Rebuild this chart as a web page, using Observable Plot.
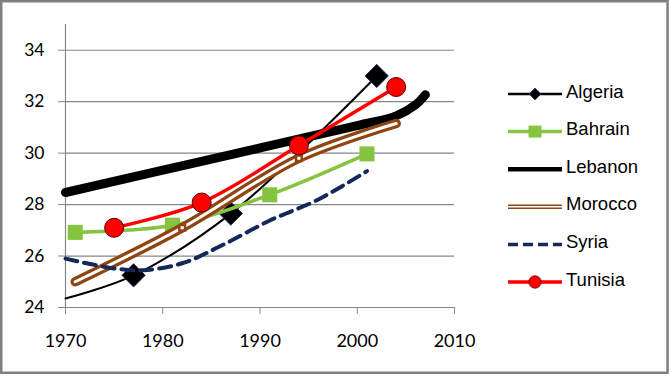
<!DOCTYPE html>
<html><head><meta charset="utf-8">
<script src="https://cdn.jsdelivr.net/npm/d3@7"></script>
<script src="https://cdn.jsdelivr.net/npm/@observablehq/plot@0.6"></script>
<style>
html,body{margin:0;padding:0;background:#fff;}
#chart{width:670px;height:376px;position:relative;}
</style></head><body><div id="chart"></div>
<script>
// ---- data ----
const seriesNames = ["Algeria","Bahrain","Lebanon","Morocco","Syria","Tunisia"];
const algeriaYears = [1970, 1977, 1987, 2002];
const algeriaValues = [24.35, 25.25, 27.65, 33.0];
const algeriaMarked = [false, true, true, true];
const bahrainYears = [1971, 1981, 1991, 2001];
const bahrainValues = [26.92, 27.2, 28.38, 29.97];
const lebanonYears = [1970, 1985, 2000, 2004, 2006, 2007];
const lebanonValues = [28.47, 29.77, 31.07, 31.45, 31.88, 32.27];
const moroccoYears = [1971, 1982, 1994, 2004];
const moroccoValues = [25.0, 27.1, 29.8, 31.15];
const moroccoMarked = [false, true, true, false];
const syriaYears = [1970, 1975, 1978, 1982, 1986, 1991, 1996, 2001];
const syriaValues = [25.9, 25.52, 25.45, 25.72, 26.4, 27.38, 28.2, 29.3];
const tunisiaYears = [1975, 1984, 1994, 2004];
const tunisiaValues = [27.1, 28.08, 30.3, 32.57];
const xTicks = [1970, 1980, 1990, 2000, 2010];
const yTicks = [24, 26, 28, 30, 32, 34];

const rows = (name, years, values, marked) =>
  years.map((y, i) => ({name, year: y, value: values[i], marked: marked ? marked[i] : true}));
const algeria = rows("Algeria", algeriaYears, algeriaValues, algeriaMarked);
const bahrain = rows("Bahrain", bahrainYears, bahrainValues);
const lebanon = rows("Lebanon", lebanonYears, lebanonValues);
const morocco = rows("Morocco", moroccoYears, moroccoValues, moroccoMarked);
const syria = rows("Syria", syriaYears, syriaValues);
const tunisia = rows("Tunisia", tunisiaYears, tunisiaValues);

const C = {
  algeria: "#000000", algeriaEdge: "#1F3864",
  bahrain: "#86C440",
  lebanon: "#000000",
  morocco: "#8E4512",
  syria: "#14285A",
  tunisia: "#FF0000", tunisiaEdge: "#600000",
  grid: "#868686"
};
const curve = "catmull-rom";
const XY = {x: "year", y: "value", curve};

const svg = Plot.plot({
  width: 670, height: 376,
  marginLeft: 65, marginRight: 216, marginTop: 24, marginBottom: 69,
  style: {fontFamily: "Lato, sans-serif", fontSize: "17.5px", background: "transparent", overflow: "visible"},
  x: {domain: [1970, 2010]},
  y: {domain: [24, 35]},
  marks: [
    Plot.ruleY(yTicks, {stroke: C.grid, strokeWidth: 1.2}),
    Plot.ruleX([1970], {y1: 24, y2: 35, stroke: C.grid, strokeWidth: 1.2}),
    Plot.axisY(yTicks, {tickSize: 7, tickPadding: 14, stroke: C.grid, fill: "#000", label: null, tickFormat: d => String(d), fontSize: 17.5}),
    Plot.axisX(xTicks, {tickSize: 7, tickPadding: 20, stroke: C.grid, fill: "#000", label: null, tickFormat: d => String(d), fontSize: 18}),
    // Algeria
    Plot.line(algeria, {...XY, stroke: C.algeria, strokeWidth: 2}),
    Plot.dot(algeria.filter(d => d.marked), {x: "year", y: "value", symbol: "diamond2", r: 10.5, fill: "#000", stroke: C.algeriaEdge, strokeWidth: 1}),
    // Bahrain
    Plot.line(bahrain, {...XY, stroke: C.bahrain, strokeWidth: 3.5}),
    Plot.dot(bahrain, {x: "year", y: "value", symbol: "square", r: 8.5, fill: C.bahrain, stroke: "none"}),
    // Lebanon
    Plot.line(lebanon, {...XY, stroke: C.lebanon, strokeWidth: 9, strokeLinecap: "round"}),
    // Morocco (double line)
    Plot.line(morocco, {...XY, stroke: C.morocco, strokeWidth: 9.5, strokeLinecap: "round"}),
    Plot.line(morocco, {...XY, stroke: "#fff", strokeWidth: 3, strokeLinecap: "round"}),
    Plot.dot(morocco.filter(d => d.marked), {x: "year", y: "value", symbol: "square", r: 3.2, fill: "#fff", stroke: C.morocco, strokeWidth: 2.5}),
    // Syria
    Plot.line(syria, {...XY, stroke: C.syria, strokeWidth: 4, strokeDasharray: "12,7"}),
    // Tunisia
    Plot.line(tunisia, {...XY, stroke: C.tunisia, strokeWidth: 3.5}),
    Plot.dot(tunisia, {x: "year", y: "value", symbol: "circle", r: 9.5, fill: C.tunisia, stroke: C.tunisiaEdge, strokeWidth: 1})
  ]
});

const s = d3.select(svg);
// legend
const legendX1 = 508, legendX2 = 562, legendText = 566;
const rowY = [94, 131.6, 169.2, 206.8, 244.4, 282];
const g = s.append("g").attr("text-anchor", "start");
seriesNames.forEach((name, i) => {
  const y = rowY[i];
  const line = (stroke, w, extra = {}) => {
    const l = g.append("line").attr("x1", legendX1).attr("x2", legendX2).attr("y1", y).attr("y2", y)
      .attr("stroke", stroke).attr("stroke-width", w);
    Object.entries(extra).forEach(([k, v]) => l.attr(k, v));
  };
  const cx = (legendX1 + legendX2) / 2;
  if (name === "Algeria") {
    line(C.algeria, 2.5);
    g.append("path").attr("d", d3.symbol(d3.symbolDiamond2, 90)()).attr("transform", `translate(${cx},${y})`)
      .attr("fill", "#000").attr("stroke", C.algeriaEdge).attr("stroke-width", 0.8);
  } else if (name === "Bahrain") {
    line(C.bahrain, 3.5);
    g.append("rect").attr("x", cx - 6.5).attr("y", y - 6).attr("width", 13).attr("height", 12).attr("fill", C.bahrain);
  } else if (name === "Lebanon") {
    line(C.lebanon, 4.5);
  } else if (name === "Morocco") {
    line(C.morocco, 4.5);
    line("#fff", 1.6);
  } else if (name === "Syria") {
    line(C.syria, 3.5, {"stroke-dasharray": "10,5"});
  } else if (name === "Tunisia") {
    line(C.tunisia, 3.5);
    g.append("circle").attr("cx", cx).attr("cy", y).attr("r", 6.2).attr("fill", C.tunisia)
      .attr("stroke", C.tunisiaEdge).attr("stroke-width", 0.8);
  }
  g.append("text").attr("x", legendText).attr("y", y + 3.5).text(name)
    .attr("text-anchor", "start")
    .attr("font-family", "'Liberation Sans', Arial, sans-serif").attr("font-size", 18.5).attr("fill", "#000");
});
// outer border
s.append("rect").attr("x", 1.25).attr("y", 1.25).attr("width", 666.3).attr("height", 371.5)
  .attr("fill", "none").attr("stroke", "#808080").attr("stroke-width", 2.5);

document.getElementById("chart").appendChild(svg);
</script></body></html>
